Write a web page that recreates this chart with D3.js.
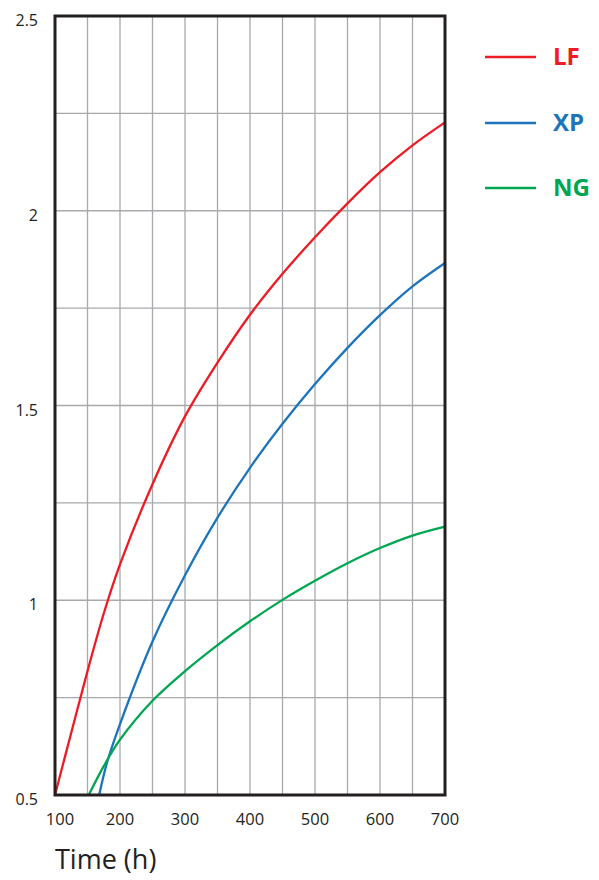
<!DOCTYPE html>
<html>
<head>
<meta charset="utf-8">
<script src="https://cdn.jsdelivr.net/npm/d3@7"></script>
<style>
  html, body { margin: 0; padding: 0; background: #fff; }
  svg { display: block; }
</style>
</head>
<body>
<svg id="chart" width="599" height="880"></svg>
<script>
// ---- data ----
const seriesNames = ["LF", "XP", "NG"];
const seriesColors = ["#ed1c24", "#1c75bc", "#00a651"];

const lfHours  = [100, 125, 150, 175, 200, 250, 300, 350, 400, 450, 500, 550, 600, 650, 700];
const lfValues = [0.5, 0.660, 0.818, 0.966, 1.092, 1.298, 1.472, 1.610, 1.733, 1.838, 1.932, 2.019, 2.099, 2.168, 2.227];

const xpHours  = [168, 180, 200, 250, 300, 350, 400, 450, 500, 550, 600, 650, 700];
const xpValues = [0.5, 0.583, 0.682, 0.894, 1.064, 1.212, 1.340, 1.453, 1.555, 1.648, 1.732, 1.806, 1.866];

const ngHours  = [152, 175, 200, 250, 300, 350, 400, 450, 500, 550, 600, 650, 700];
const ngValues = [0.5, 0.574, 0.642, 0.742, 0.818, 0.885, 0.946, 1.001, 1.050, 1.095, 1.134, 1.166, 1.189];

const xTicks = [100, 200, 300, 400, 500, 600, 700];
const xGrid  = [100, 150, 200, 250, 300, 350, 400, 450, 500, 550, 600, 650, 700];
const yTicks = [0.5, 1, 1.5, 2, 2.5];
const yTickLabels = ["0.5", "1", "1.5", "2", "2.5"];
const yGrid  = [0.5, 0.75, 1, 1.25, 1.5, 1.75, 2, 2.25, 2.5];
const xAxisTitle = "Time (h)";

(function () {
// ---- layout ----
const svg = d3.select("#chart");
const mLeft = 55, mRight = 445, mTop = 16, mBottom = 795;
const x = d3.scaleLinear().domain([100, 700]).range([mLeft, mRight]);
const y = d3.scaleLinear().domain([0.5, 2.5]).range([mBottom, mTop]);
const textColor = "#231f20";
const font = "'Open Sans', 'DejaVu Sans', sans-serif";

// grid
const grid = svg.append("g");
grid.selectAll("line.v").data(xGrid).join("line").attr("class", "v")
  .attr("x1", d => x(d)).attr("x2", d => x(d))
  .attr("y1", mTop).attr("y2", mBottom)
  .attr("stroke", "#a7a9ac").attr("stroke-width", 1.3);
grid.selectAll("line.h").data(yGrid).join("line").attr("class", "h")
  .attr("x1", mLeft).attr("x2", mRight)
  .attr("y1", d => y(d)).attr("y2", d => y(d))
  .attr("stroke", "#a7a9ac").attr("stroke-width", 1.3);

// curves
const line = d3.line()
  .x(d => x(d[0])).y(d => y(d[1]))
  .curve(d3.curveCatmullRom.alpha(0.5));
const allSeries = [
  d3.zip(lfHours, lfValues),
  d3.zip(xpHours, xpValues),
  d3.zip(ngHours, ngValues)
];
svg.append("g").selectAll("path").data(allSeries).join("path")
  .attr("d", line)
  .attr("fill", "none")
  .attr("stroke", (d, i) => seriesColors[i])
  .attr("stroke-width", 2.3);

// frame
svg.append("rect")
  .attr("x", mLeft).attr("y", mTop)
  .attr("width", mRight - mLeft).attr("height", mBottom - mTop)
  .attr("fill", "none").attr("stroke", textColor).attr("stroke-width", 3);

// y tick labels
svg.append("g").selectAll("text").data(yTicks).join("text")
  .attr("x", 38).attr("y", d => y(d) + 10)
  .attr("text-anchor", "end")
  .attr("font-family", font).attr("font-size", 16)
  .attr("fill", textColor)
  .text((d, i) => yTickLabels[i]);

// x tick labels
svg.append("g").selectAll("text").data(xTicks).join("text")
  .attr("x", d => x(d) + (d === 100 ? 5 : 0)).attr("y", 825)
  .attr("text-anchor", "middle")
  .attr("font-family", font).attr("font-size", 16.5)
  .attr("fill", textColor)
  .text(d => d);

// x axis title
svg.append("text")
  .attr("x", 55).attr("y", 869)
  .attr("font-family", font).attr("font-size", 27)
  .attr("fill", textColor)
  .text(xAxisTitle);

// legend
const legendY = [57, 123, 188];
const lg = svg.append("g");
lg.selectAll("line").data(seriesNames).join("line")
  .attr("x1", 485).attr("x2", 536)
  .attr("y1", (d, i) => legendY[i]).attr("y2", (d, i) => legendY[i])
  .attr("stroke", (d, i) => seriesColors[i]).attr("stroke-width", 2.5);
lg.selectAll("text").data(seriesNames).join("text")
  .attr("x", 553).attr("y", (d, i) => legendY[i] + 8)
  .attr("font-family", font).attr("font-size", 24).attr("font-weight", "bold")
  .attr("fill", (d, i) => seriesColors[i])
  .text(d => d);
})();
</script>
</body>
</html>
